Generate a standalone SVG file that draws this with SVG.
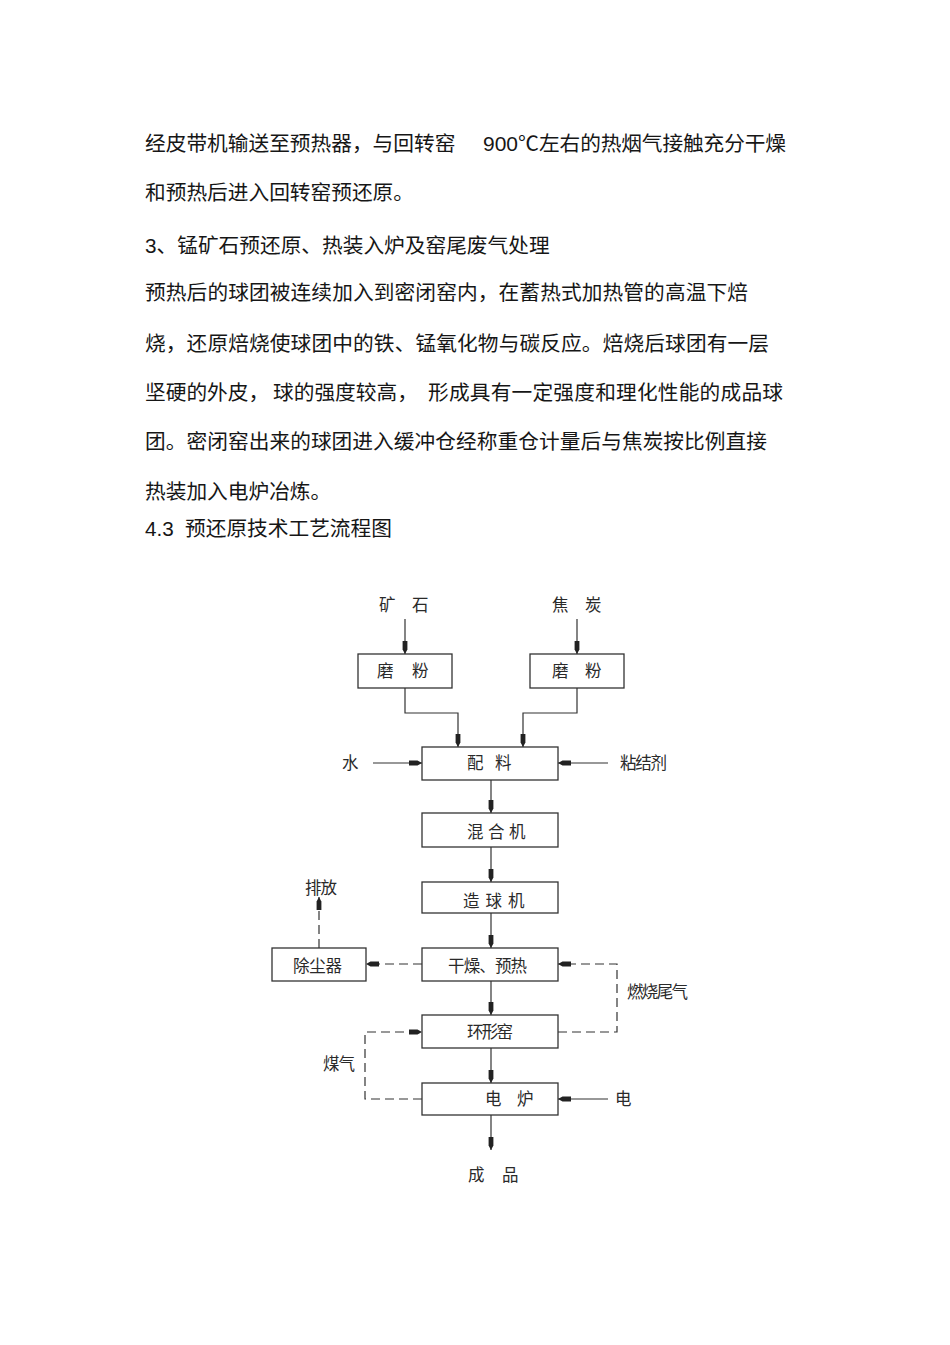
<svg xmlns="http://www.w3.org/2000/svg" width="950" height="1345" viewBox="0 0 950 1345">
<defs>
<style>
.body{font-family:"Liberation Sans","Noto Sans CJK SC",sans-serif;font-size:20.7px;fill:#161616;}
.lbl{font-family:"Noto Sans CJK SC",sans-serif;font-size:16.5px;fill:#2a2a2a;}
.box{fill:#fff;stroke:#333;stroke-width:1.3;}
.ln{fill:none;stroke:#333;stroke-width:1.2;}
.dash{fill:none;stroke:#333;stroke-width:1.2;stroke-dasharray:9 5;}
</style>
<marker id="ah" markerUnits="userSpaceOnUse" markerWidth="14" markerHeight="8" refX="13" refY="4" viewBox="0 0 14 8" orient="auto">
<path d="M0,1.6 L8.5,1.6 L13,4 L8.5,6.4 L0,6.4 Z" fill="#222"/>
</marker>
</defs>
<rect width="950" height="1345" fill="#fff"/>

<g id="body-text">
<text class="body" x="145" y="151">经皮带机输送至预热器，与回转窑</text>
<text class="body" x="483" y="151" textLength="56" lengthAdjust="spacingAndGlyphs">900℃</text>
<text class="body" x="539" y="151" textLength="247">左右的热烟气接触充分干燥</text>
<text class="body" x="145" y="200">和预热后进入回转窑预还原。</text>
<text class="body" x="145" y="253">3、锰矿石预还原、热装入炉及窑尾废气处理</text>
<text class="body" x="145" y="300" textLength="603">预热后的球团被连续加入到密闭窑内，在蓄热式加热管的高温下焙</text>
<text class="body" x="145" y="351" textLength="624">烧，还原焙烧使球团中的铁、锰氧化物与碳反应。焙烧后球团有一层</text>
<text class="body" x="145" y="400">坚硬的外皮，</text>
<text class="body" x="273" y="400">球的强度较高，</text>
<text class="body" x="428" y="400" textLength="355">形成具有一定强度和理化性能的成品球</text>
<text class="body" x="145" y="449" textLength="622">团。密闭窑出来的球团进入缓冲仓经称重仓计量后与焦炭按比例直接</text>
<text class="body" x="145" y="499">热装加入电炉冶炼。</text>
<text class="body" x="145" y="536">4.3</text>
<text class="body" x="185" y="536">预还原技术工艺流程图</text>
</g>

<g id="connectors">
<path class="ln" d="M405,619 V654" marker-end="url(#ah)"/>
<path class="ln" d="M577,619 V654" marker-end="url(#ah)"/>
<path class="ln" d="M405,688 V713 H458 V747" marker-end="url(#ah)"/>
<path class="ln" d="M577,688 V713 H523 V747" marker-end="url(#ah)"/>
<path class="ln" d="M373,763 H422" marker-end="url(#ah)"/>
<path class="ln" d="M608,763 H558" marker-end="url(#ah)"/>
<path class="ln" d="M491,780 V813" marker-end="url(#ah)"/>
<path class="ln" d="M491,847 V882" marker-end="url(#ah)"/>
<path class="ln" d="M491,913 V948" marker-end="url(#ah)"/>
<path class="ln" d="M491,981 V1015" marker-end="url(#ah)"/>
<path class="ln" d="M491,1048 V1083" marker-end="url(#ah)"/>
<path class="ln" d="M491,1115 V1150" marker-end="url(#ah)"/>
<path class="ln" d="M608,1099 H558" marker-end="url(#ah)"/>
<path class="dash" d="M422,964 H366" marker-end="url(#ah)"/>
<path class="dash" d="M319,948 V897" marker-end="url(#ah)"/>
<path class="dash" d="M558,1032 H617 V964 H558" marker-end="url(#ah)"/>
<path class="dash" d="M422,1099 H365 V1032 H422" marker-end="url(#ah)"/>
</g>

<g id="n-ore"><text class="lbl" x="379 412" y="611">矿石</text></g>
<g id="n-coke"><text class="lbl" x="552 585" y="611">焦炭</text></g>
<g id="n-grind1"><rect class="box" x="358" y="654" width="94" height="34"/><text class="lbl" x="377 412" y="677">磨粉</text></g>
<g id="n-grind2"><rect class="box" x="530" y="654" width="94" height="34"/><text class="lbl" x="552 585" y="677">磨粉</text></g>
<g id="n-water"><text class="lbl" x="342" y="769">水</text></g>
<g id="n-binder"><text class="lbl" x="620" y="769" textLength="47">粘结剂</text></g>
<g id="n-batch"><rect class="box" x="422" y="747" width="136" height="33"/><text class="lbl" x="467 495" y="769">配料</text></g>
<g id="n-mixer"><rect class="box" x="422" y="813" width="136" height="34"/><text class="lbl" x="467 488 509" y="838">混合机</text></g>
<g id="n-pellet"><rect class="box" x="422" y="882" width="136" height="31"/><text class="lbl" x="463 485.5 508" y="907">造球机</text></g>
<g id="n-dry"><rect class="box" x="422" y="948" width="136" height="33"/><text class="lbl" x="448" y="972" textLength="79">干燥、预热</text></g>
<g id="n-dust"><rect class="box" x="272" y="948" width="94" height="33"/><text class="lbl" x="293" y="972" textLength="49">除尘器</text></g>
<g id="n-vent"><text class="lbl" x="305" y="894" textLength="32">排放</text></g>
<g id="n-flue"><text class="lbl" x="627" y="998" textLength="61">燃烧尾气</text></g>
<g id="n-kiln"><rect class="box" x="422" y="1015" width="136" height="33"/><text class="lbl" x="467" y="1038" textLength="46">环形窑</text></g>
<g id="n-gas"><text class="lbl" x="323" y="1070" textLength="32">煤气</text></g>
<g id="n-furnace"><rect class="box" x="422" y="1083" width="136" height="32"/><text class="lbl" x="485 517" y="1105">电炉</text></g>
<g id="n-power"><text class="lbl" x="615" y="1105">电</text></g>
<g id="n-product"><text class="lbl" x="468 502" y="1181">成品</text></g>
</svg>
